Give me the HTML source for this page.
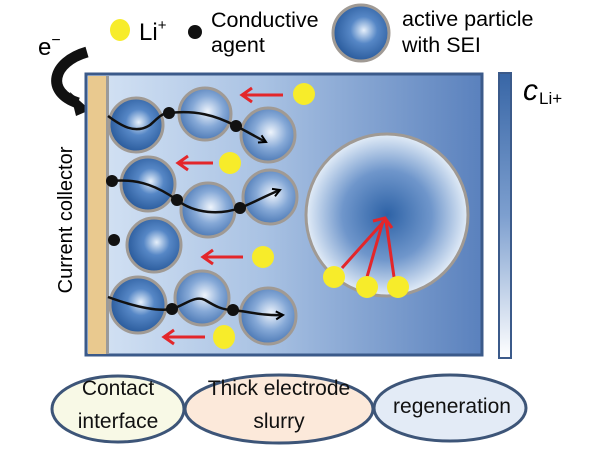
<!DOCTYPE html>
<html><head><style>html,body{margin:0;padding:0;background:#fff;width:600px;height:449px;overflow:hidden}</style></head>
<body>
<svg width="600" height="449" viewBox="0 0 600 449" xmlns="http://www.w3.org/2000/svg" font-family="Liberation Sans, sans-serif">
<defs>
<linearGradient id="bg" x1="0" x2="1" y1="0" y2="0"><stop offset="0" stop-color="#d6e4f5"/><stop offset="0.45" stop-color="#a9c2e3"/><stop offset="1" stop-color="#5a81bd"/></linearGradient>
<linearGradient id="bar" x1="0" x2="0" y1="0" y2="1"><stop offset="0" stop-color="#3866a6"/><stop offset="0.5" stop-color="#7d9fcf"/><stop offset="1" stop-color="#ffffff"/></linearGradient>
<radialGradient id="p" cx="0.55" cy="0.45" r="0.6"><stop offset="0" stop-color="#e6f0fb"/><stop offset="0.4" stop-color="#5687c6"/><stop offset="1" stop-color="#245596"/></radialGradient>
<radialGradient id="pl" cx="0.55" cy="0.45" r="0.6"><stop offset="0" stop-color="#eef4fc"/><stop offset="0.5" stop-color="#86a9d7"/><stop offset="1" stop-color="#4472b0"/></radialGradient>
<radialGradient id="big" cx="0.5" cy="0.5" r="0.5"><stop offset="0" stop-color="#2d62a6"/><stop offset="0.55" stop-color="#6f96cb"/><stop offset="1" stop-color="#e3edf8"/></radialGradient>
<marker id="ar" markerWidth="10" markerHeight="10" refX="8" refY="5" orient="auto" markerUnits="userSpaceOnUse"><path d="M1,1 L8,5 L1,9" fill="none" stroke="#000" stroke-width="2"/></marker>
</defs>
<!-- legend -->
<ellipse cx="120" cy="30" rx="10" ry="11" fill="#f7ec2a"/>
<text x="139" y="40" font-size="24">Li<tspan font-size="15" dy="-10">+</tspan></text>
<circle cx="195" cy="32" r="7" fill="#111"/>
<text x="211" y="27" font-size="21.5">Conductive</text>
<text x="211" y="52" font-size="21.5">agent</text>
<circle cx="361" cy="33" r="28" fill="url(#p)" stroke="#a09a94" stroke-width="3"/>
<text x="402" y="26" font-size="21.5">active particle</text>
<text x="402" y="52" font-size="21.5">with SEI</text>
<text x="38" y="55" font-size="24">e<tspan font-size="16" dy="-10">−</tspan></text>
<path d="M87,52 C52,62 45,92 78,103" fill="none" stroke="#111" stroke-width="11"/>
<path d="M70,92 L90,110 L76,116 Z" fill="#111"/>
<!-- main -->
<rect x="86" y="74" width="396" height="281" fill="url(#bg)" stroke="#3b5a8a" stroke-width="3"/>
<rect x="88" y="76" width="18" height="278" fill="#e9c98f"/>
<rect x="106" y="76" width="3" height="278" fill="#9a9a9a"/>
<rect x="499" y="73" width="12" height="285" fill="url(#bar)" stroke="#3b5a8a" stroke-width="2"/>
<text x="523" y="100" font-size="30" font-style="italic">c</text>
<text x="539" y="104" font-size="17">Li+</text>
<text transform="translate(72,220) rotate(-90)" font-size="20" text-anchor="middle">Current collector</text>
<!-- particles -->
<g stroke="#a09a94" stroke-width="3">
<circle cx="136" cy="125" r="27" fill="url(#p)"/>
<circle cx="205" cy="114" r="26" fill="url(#pl)"/>
<circle cx="268" cy="135" r="27" fill="url(#pl)"/>
<circle cx="148" cy="184" r="27" fill="url(#p)"/>
<circle cx="208" cy="210" r="27" fill="url(#pl)"/>
<circle cx="270" cy="197" r="27" fill="url(#pl)"/>
<circle cx="154" cy="245" r="27" fill="url(#p)"/>
<circle cx="138" cy="305" r="28" fill="url(#p)"/>
<circle cx="202" cy="298" r="27" fill="url(#pl)"/>
<circle cx="268" cy="316" r="28" fill="url(#pl)"/>
<circle cx="387" cy="215" r="81" fill="url(#big)"/>
</g>
<!-- conductive paths -->
<g fill="none" stroke="#111" stroke-width="2.5">
<path d="M108,116 C120,125 135,135 150,125 C158,118 162,113 169,113 C195,110 215,115 236,126 C248,132 256,137 266,142" marker-end="url(#ar)"/>
<path d="M112,181 C140,178 160,188 177,200 C195,214 220,215 240,208 C255,202 265,196 280,190" marker-end="url(#ar)"/>
<path d="M108,297 C130,305 155,312 172,309 C185,305 195,295 205,300 C215,306 222,310 233,310 C250,312 265,316 283,315" marker-end="url(#ar)"/>
</g>
<g fill="#111">
<circle cx="169" cy="113" r="6"/><circle cx="236" cy="126" r="6"/>
<circle cx="112" cy="181" r="6"/><circle cx="177" cy="200" r="6"/><circle cx="240" cy="208" r="6"/>
<circle cx="114" cy="240" r="6"/>
<circle cx="172" cy="309" r="6"/><circle cx="233" cy="310" r="6"/>
</g>
<!-- red arrows -->
<g stroke="#e3262a" stroke-width="3" fill="none">
<path d="M283,95 H242 M252,88 L242,95 L252,102"/>
<path d="M213,163 H178 M188,156 L178,163 L188,170"/>
<path d="M243,257 H203 M213,250 L203,257 L213,264"/>
<path d="M205,337 H164 M174,330 L164,337 L174,344"/>
<path d="M342,268 L385,220 M367,277 L383,221 M394,277 L386,221"/>
<path d="M373,221 L385,218 L392,228"/>
</g>
<g fill="#f7ec2a">
<ellipse cx="304" cy="94" rx="11" ry="11"/>
<ellipse cx="230" cy="163" rx="11" ry="11"/>
<ellipse cx="263" cy="257" rx="11" ry="11"/>
<ellipse cx="224" cy="337" rx="11" ry="12"/>
<ellipse cx="334" cy="277" rx="11" ry="11"/>
<ellipse cx="367" cy="287" rx="11" ry="11"/>
<ellipse cx="398" cy="287" rx="11" ry="11"/>
</g>
<!-- ovals -->
<g stroke="#3d5578" stroke-width="3">
<ellipse cx="118" cy="409" rx="66" ry="33" fill="#f8f9e6"/>
<ellipse cx="279" cy="409" rx="94" ry="34" fill="#fce9da"/>
<ellipse cx="450" cy="408" rx="76" ry="33" fill="#e3ebf6"/>
</g>
<g font-size="21" text-anchor="middle" fill="#111">
<text x="118" y="395">Contact</text><text x="118" y="428">interface</text>
<text x="279" y="395">Thick electrode</text><text x="279" y="428">slurry</text>
<text x="452" y="413">regeneration</text>
</g>
</svg>
</body></html>
